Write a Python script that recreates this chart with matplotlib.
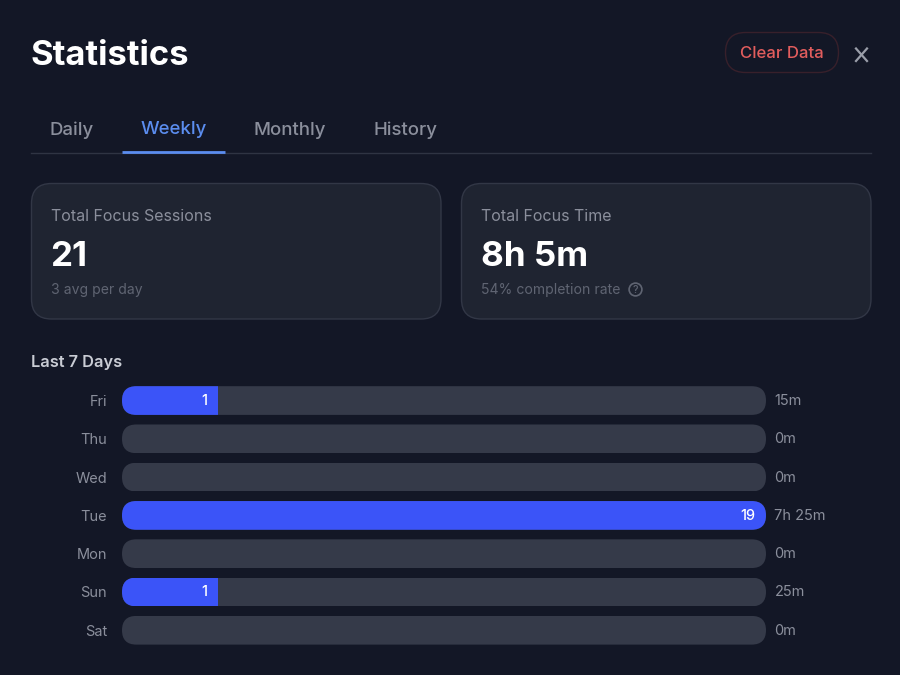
import matplotlib
matplotlib.use("Agg")
import matplotlib.pyplot as plt
from matplotlib.patches import FancyBboxPatch, Circle
from matplotlib.transforms import IdentityTransform

days = ["Fri", "Thu", "Wed", "Tue", "Mon", "Sun", "Sat"]
sessions = [1, 0, 0, 19, 0, 1, 0]
durations = ["15m", "0m", "0m", "7h 25m", "0m", "25m", "0m"]
fill_pct = [14.9, 0, 0, 100, 0, 14.9, 0]
tabs = ["Daily", "Weekly", "Monthly", "History"]
tab_x = [71.5, 173.5, 289.5, 405.5]

BG = "#131726"
CARD = "#1f2431"
CARD_EDGE = "#323746"
TRACK = "#353a49"
BLUE = "#3b54f8"
ACCENT = "#5b8def"
MUTED = "#8b8f9c"
DIM = "#5f6472"

plt.rcParams["font.family"] = ["Inter", "DejaVu Sans"]


def px(size):
    return size * 0.72


def rounded(ax, x0, y0, x1, y1, r, face, edge="none", lw=1.0):
    patch = FancyBboxPatch((x0, y0), x1 - x0, y1 - y0,
                           boxstyle=f"round,pad=0,rounding_size={r}",
                           facecolor=face, edgecolor=edge, linewidth=lw)
    ax.add_patch(patch)
    return patch


fig = plt.figure(figsize=(9, 6.75), dpi=100, facecolor=BG)

# whole page in pixel coords
page = fig.add_axes([0, 0, 1, 1])
page.set_xlim(0, 900)
page.set_ylim(675, 0)
page.axis("off")

page.text(30, 56, "Statistics", color="white", fontsize=px(34.6), fontweight="bold", va="center")

rounded(page, 725.5, 32.5, 838.5, 72.5, 20, BG, "#38202b")
page.text(781.5, 53.5, "Clear Data", color="#e25d5d", fontsize=px(16.8), fontweight="medium", ha="center", va="center")
page.plot([856, 867], [48.5, 61], color="#9a9ea9", lw=1.6)
page.plot([867, 856], [48.5, 61], color="#9a9ea9", lw=1.6)

for name, x in zip(tabs, tab_x):
    active = name == "Weekly"
    page.text(x, 134 if active else 135, name, color=ACCENT if active else MUTED,
              fontsize=px(18.6), fontweight="medium", ha="center", va="baseline")
page.plot([31, 871], [153.3, 153.3], color="#2f3443", lw=1)
page.plot([122, 225], [152, 152], color=ACCENT, lw=2, solid_capstyle="butt")

rounded(page, 31.5, 183.5, 441, 319, 20, CARD, CARD_EDGE)
rounded(page, 461.5, 183.5, 871, 319, 20, CARD, CARD_EDGE)

page.text(51, 216.5, "Total Focus Sessions", color=MUTED, fontsize=px(16), va="center")
page.text(50.5, 257.5, "21", color="white", fontsize=px(35), fontweight="bold", va="center")
page.text(51, 290, "3 avg per day", color=DIM, fontsize=px(14), va="center")

page.text(481, 216.5, "Total Focus Time", color=MUTED, fontsize=px(16), va="center")
page.text(481, 257.5, "8h 5m", color="white", fontsize=px(35), fontweight="bold", va="center")
page.text(481, 290, "54% completion rate", color=DIM, fontsize=px(14), va="center")
page.add_patch(Circle((635.5, 289.5), 6.4, facecolor="none", edgecolor=DIM, lw=1.2))
page.text(635.5, 289.7, "?", color=DIM, fontsize=px(10.5), fontweight="medium", ha="center", va="center")

page.text(31, 362, "Last 7 Days", color="#c9ccd4", fontsize=px(16.4), fontweight="semibold", va="center")

# bar rows
ax = fig.add_axes([122 / 900, 1 - 649.4 / 675, 644 / 900, (649.4 - 381.4) / 675])
ax.patch.set_alpha(0)
y_pos = list(range(len(days)))
tracks = ax.barh(y_pos, [100] * len(days), height=0.75, color=TRACK)
fills = ax.barh(y_pos, fill_pct, height=0.75, color=BLUE)
ax.set_xlim(0, 100)
ax.set_ylim(6.5, -0.5)
ax.set_xticks([])
ax.set_yticks(y_pos, days)
ax.tick_params(axis="y", length=0, pad=px(15), labelcolor=MUTED, labelsize=px(14.5))
for spine in ax.spines.values():
    spine.set_visible(False)

fig.canvas.draw()
for track, fill, count, dur, pct, y in zip(tracks, fills, sessions, durations, fill_pct, y_pos):
    box = track.get_window_extent()
    pill = FancyBboxPatch((box.x0, box.y0), box.width, box.height,
                          boxstyle=f"round,pad=0,rounding_size={box.height / 2}",
                          transform=IdentityTransform())
    track.set_clip_path(pill)
    fill.set_clip_path(pill)
    if count:
        ax.annotate(str(count), (pct, y), xytext=(px(-10.5), px(-0.5)), textcoords="offset points",
                    color="white", fontsize=px(14.5), fontweight="medium", ha="right", va="center")
    ax.annotate(dur, (100, y), xytext=(px(8.5), px(-0.5)), textcoords="offset points", annotation_clip=False,
                color=MUTED, fontsize=px(14.5), ha="left", va="center")

fig.savefig("out.png", dpi=100, facecolor=BG)
